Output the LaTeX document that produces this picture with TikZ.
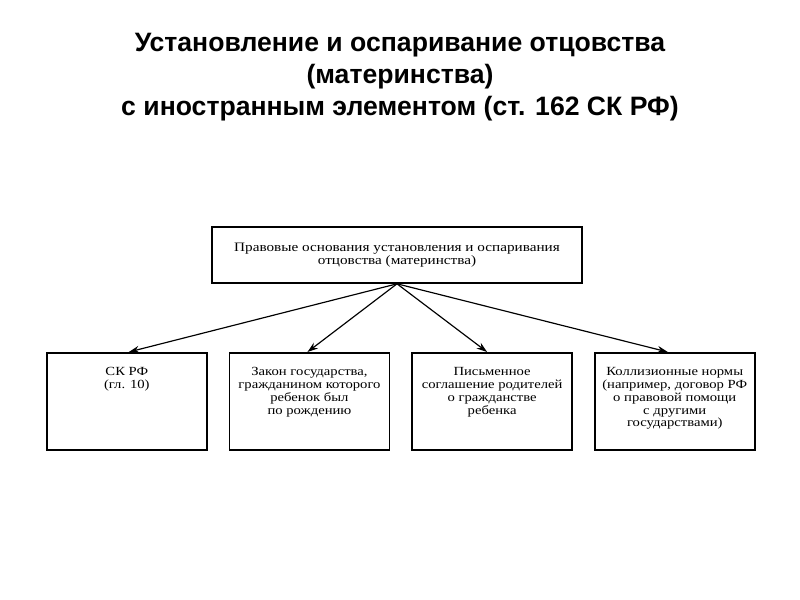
\documentclass[tikz,border=0pt]{standalone}
\usepackage{fontspec}
\setmainfont{Liberation Serif}
\newfontfamily\titlefont{Liberation Sans}
\newfontfamily\scanfont[FakeStretch=1.18]{Liberation Serif}
\usetikzlibrary{arrows.meta,positioning}
\newcommand{\cardlines}[1]{\parbox[c][2.55cm][t]{4.44cm}{\centering\vspace*{7.5pt}#1}}

\begin{document}
\begin{tikzpicture}[x=0.03cm,y=-0.03cm,node distance=0.63cm,
    card/.style={draw,line width=1.4pt,inner sep=0.18cm,
      font=\scanfont\fontsize{10.6}{10.9}\selectfont},
    link/.style={-{Stealth[length=9pt,width=6pt]},line width=1pt}]
  \useasboundingbox (0,0) rectangle (800,600);
  \node[font=\titlefont\bfseries\fontsize{22.7}{27.3}\selectfont,align=center] (title) at (400,77)
    {Установление и оспаривание отцовства\\(материнства)\\с иностранным элементом (ст. 162 СК РФ)};
  \node[draw,line width=1.4pt,minimum width=11.1cm,minimum height=1.68cm,align=center,
    font=\scanfont\fontsize{11}{11.2}\selectfont] (basis) at (397,255)
    {Правовые основания установления и оспаривания\\отцовства (материнства)};
  \node[card,anchor=north west] (skrf) at (46,352) {\cardlines{СК РФ\\(гл. 10)}};
  \node[card,right=of skrf.north east,anchor=north west] (state)
    {\cardlines{Закон государства,\\гражданином которого\\ребенок был\\по рождению}};
  \node[card,right=of state.north east,anchor=north west] (agree)
    {\cardlines{Письменное\\соглашение родителей\\о гражданстве\\ребенка}};
  \node[card,right=of agree.north east,anchor=north west] (rules)
    {\cardlines{Коллизионные нормы\\(например, договор РФ\\о правовой помощи\\с другими\\государствами)}};
  \draw[link] (basis.south) -- ([xshift=0.06cm]skrf.north);
  \draw[link] (basis.south) -- ([xshift=-0.06cm]state.north);
  \draw[link] (basis.south) -- ([xshift=-0.15cm]agree.north);
  \draw[link] (basis.south) -- ([xshift=-0.21cm]rules.north);
\end{tikzpicture}
\end{document}
